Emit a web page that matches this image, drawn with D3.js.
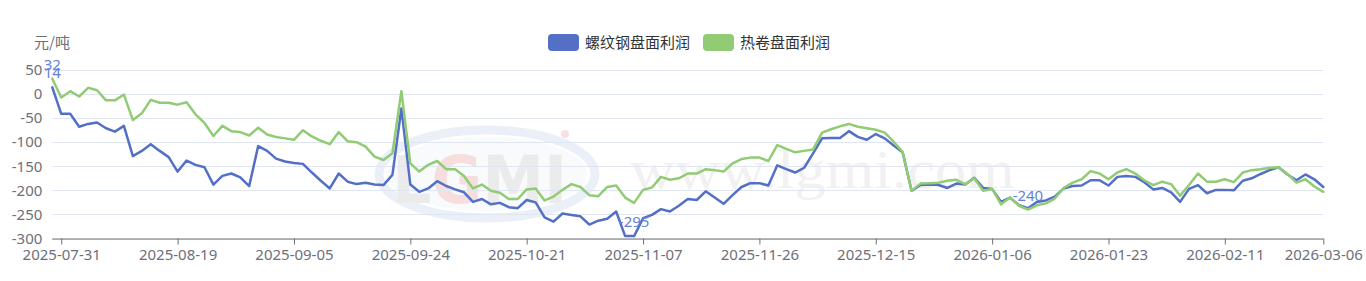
<!DOCTYPE html>
<html lang="zh">
<head>
<meta charset="utf-8" />
<title>螺纹钢 / 热卷 盘面利润</title>
<style>
  body { margin: 0; background: #fff; }
  svg { display: block; font-family: "Noto Sans", "Noto Sans CJK SC", sans-serif; }
  .grid line { stroke: #e0e6f1; stroke-width: 1; }
  .axis text { fill: #6e7079; font-size: 15px; }
  .line { fill: none; stroke-width: 2.5; stroke-linejoin: round; stroke-linecap: round; }
</style>
</head>
<body>
<svg id="chart" width="1366" height="281"></svg>
<script src="https://d3js.org/d3.v7.min.js"></script>
<script>
// trading days on the category axis
const dates = [
  "2025-07-30","2025-07-31","2025-08-01","2025-08-04","2025-08-05","2025-08-06","2025-08-07","2025-08-08",
  "2025-08-11","2025-08-12","2025-08-13","2025-08-14","2025-08-15","2025-08-18","2025-08-19","2025-08-20",
  "2025-08-21","2025-08-22","2025-08-25","2025-08-26","2025-08-27","2025-08-28","2025-08-29","2025-09-01",
  "2025-09-02","2025-09-03","2025-09-04","2025-09-05","2025-09-08","2025-09-09","2025-09-10","2025-09-11",
  "2025-09-12","2025-09-15","2025-09-16","2025-09-17","2025-09-18","2025-09-19","2025-09-22","2025-09-23",
  "2025-09-24","2025-09-25","2025-09-26","2025-09-29","2025-09-30","2025-10-09","2025-10-10","2025-10-13",
  "2025-10-14","2025-10-15","2025-10-16","2025-10-17","2025-10-20","2025-10-21","2025-10-22","2025-10-23",
  "2025-10-24","2025-10-27","2025-10-28","2025-10-29","2025-10-30","2025-10-31","2025-11-03","2025-11-04",
  "2025-11-05","2025-11-06","2025-11-07","2025-11-10","2025-11-11","2025-11-12","2025-11-13","2025-11-14",
  "2025-11-17","2025-11-18","2025-11-19","2025-11-20","2025-11-21","2025-11-24","2025-11-25","2025-11-26",
  "2025-11-27","2025-11-28","2025-12-01","2025-12-02","2025-12-03","2025-12-04","2025-12-05","2025-12-08",
  "2025-12-09","2025-12-10","2025-12-11","2025-12-12","2025-12-15","2025-12-16","2025-12-17","2025-12-18",
  "2025-12-19","2025-12-22","2025-12-23","2025-12-24","2025-12-25","2025-12-26","2025-12-29","2025-12-30",
  "2026-01-05","2026-01-06","2026-01-07","2026-01-08","2026-01-09","2026-01-12","2026-01-13","2026-01-14",
  "2026-01-15","2026-01-16","2026-01-19","2026-01-20","2026-01-21","2026-01-22","2026-01-23","2026-01-26",
  "2026-01-27","2026-01-28","2026-01-29","2026-01-30","2026-02-02","2026-02-03","2026-02-04","2026-02-05",
  "2026-02-06","2026-02-09","2026-02-10","2026-02-11","2026-02-12","2026-02-13","2026-02-24","2026-02-25",
  "2026-02-26","2026-02-27","2026-03-02","2026-03-03","2026-03-04","2026-03-05","2026-03-06"
];

const tickDates = ["2025-07-31","2025-08-19","2025-09-05","2025-09-24","2025-10-21","2025-11-07",
  "2025-11-26","2025-12-15","2026-01-06","2026-01-23","2026-02-11","2026-03-06"];

const yTicks = [50, 0, -50, -100, -150, -200, -250, -300];

const seriesNames = ["螺纹钢盘面利润", "热卷盘面利润"];

// 螺纹钢盘面利润 (元/吨)
const rebar = [
  14,-41,-41,-68,-62,-59,-71,-78,-66,-129,-118,-104,-118,-131,-161,-138,-147,-152,-188,-170,
  -165,-173,-191,-108,-118,-134,-140,-143,-145,-163,-180,-196,-165,-182,-187,-184,-188,-189,-168,-30,
  -188,-203,-196,-181,-191,-198,-204,-224,-218,-229,-226,-235,-237,-220,-225,-256,-265,-248,-251,-254,
  -271,-263,-259,-244,-295,-295,-258,-251,-239,-244,-232,-218,-220,-202,-215,-228,-210,-193,-185,-185,
  -190,-148,-156,-163,-153,-123,-92,-91,-91,-77,-89,-95,-83,-92,-107,-121,-201,-189,-188,-189,
  -195,-186,-188,-174,-195,-197,-224,-215,-231,-237,-224,-221,-213,-196,-191,-190,-179,-179,-190,-172,
  -170,-172,-183,-198,-195,-204,-224,-197,-189,-206,-199,-199,-200,-180,-175,-166,-158,-152,-167,-179,
  -167,-177,-193
];

// 热卷盘面利润 (元/吨)
const hotCoil = [
  32,-7,6,-5,13,8,-13,-13,-1,-54,-40,-12,-18,-18,-22,-17,-42,-60,-87,-66,
  -77,-79,-86,-70,-84,-89,-92,-95,-75,-88,-97,-104,-79,-98,-100,-109,-130,-137,-123,6,
  -144,-161,-147,-139,-156,-156,-170,-196,-188,-201,-205,-218,-218,-198,-196,-221,-213,-199,-187,-193,
  -210,-212,-193,-190,-215,-226,-199,-194,-172,-178,-175,-165,-165,-156,-158,-161,-144,-135,-132,-132,
  -139,-106,-114,-121,-118,-115,-80,-73,-67,-62,-68,-71,-74,-80,-99,-120,-201,-186,-185,-184,
  -180,-178,-187,-175,-201,-197,-229,-215,-232,-240,-231,-227,-217,-195,-184,-177,-160,-165,-177,-163,
  -156,-165,-179,-189,-182,-187,-211,-189,-165,-182,-182,-177,-183,-163,-158,-156,-153,-152,-166,-184,
  -177,-192,-203
];

const colors = ["#5470c6", "#91cc75"];
const labelColor = "#6382d6";

const svg = d3.select("#chart");
const plot = { left: 52.3, right: 1323.3, top: 70, bottom: 238.5 };

const x = d3.scalePoint().domain(dates).range([plot.left, plot.right]);
const y = d3.scaleLinear().domain([-300, 50]).range([plot.bottom, plot.top]);

// ---- watermark (faint logo + site) ----
const wm = svg.append("g").attr("opacity", 0.55);
wm.append("ellipse")
  .attr("cx", 487).attr("cy", 174).attr("rx", 108).attr("ry", 44)
  .attr("fill", "none").attr("stroke", "#dbe4f3").attr("stroke-width", 9);
wm.append("ellipse")
  .attr("cx", 487).attr("cy", 174).attr("rx", 100).attr("ry", 37)
  .attr("fill", "#f3f6fb");
const logo = wm.append("text")
  .attr("x", 392).attr("y", 203)
  .attr("font-family", "DejaVu Sans, sans-serif")
  .attr("font-weight", "bold").attr("font-size", 66)
  .attr("textLength", 175).attr("lengthAdjust", "spacingAndGlyphs");
logo.append("tspan").attr("fill", "#dcdcdc").text("L");
logo.append("tspan").attr("fill", "#f2c4c4").text("G");
logo.append("tspan").attr("fill", "#dcdcdc").text("MI");
wm.append("circle").attr("cx", 565).attr("cy", 134).attr("r", 4).attr("fill", "#f6caca");
wm.append("text")
  .attr("x", 630).attr("y", 188)
  .attr("font-family", "Liberation Serif, serif")
  .attr("font-size", 54).attr("fill", "#e6e6e6")
  .attr("textLength", 385).attr("lengthAdjust", "spacingAndGlyphs")
  .text("www.lgmi.com");

// ---- grid + y labels ----
const grid = svg.append("g").attr("class", "grid");
grid.selectAll("line").data(yTicks).join("line")
  .attr("x1", plot.left).attr("x2", plot.right)
  .attr("y1", d => Math.round(y(d)) + 0.5).attr("y2", d => Math.round(y(d)) + 0.5);

const yAxis = svg.append("g").attr("class", "axis");
yAxis.selectAll("text").data(yTicks).join("text")
  .attr("x", plot.left - 10).attr("y", d => y(d))
  .attr("dy", "0.35em").attr("text-anchor", "end")
  .text(d => d);

svg.append("text")
  .attr("x", 52).attr("y", 43).attr("dy", "0.35em")
  .attr("text-anchor", "middle")
  .attr("fill", "#6e7079").attr("font-size", 15)
  .attr("font-family", "Noto Sans CJK SC, sans-serif")
  .text("元/吨");

// ---- x axis ----
const xAxis = svg.append("g")
  .attr("class", "axis")
  .attr("transform", `translate(0,${plot.bottom})`)
  .call(d3.axisBottom(x).tickValues(tickDates).tickSize(6).tickPadding(5).tickSizeOuter(0));
xAxis.select(".domain").attr("stroke", "#6e7079").attr("d", `M${plot.left},0.5H${plot.right}`);
xAxis.selectAll(".tick line").attr("stroke", "#6e7079");
xAxis.selectAll(".tick text").attr("font-size", 15).attr("font-family", "Noto Sans, sans-serif");

// ---- lines ----
const lineGen = d3.line().x((d, i) => x(dates[i])).y(d => y(d));
[rebar, hotCoil].forEach((vals, k) => {
  svg.append("path")
    .datum(vals)
    .attr("class", "line")
    .attr("stroke", colors[k])
    .attr("d", lineGen);
});

// ---- max / min labels ----
function lastIndex(arr, v) { return arr.lastIndexOf(v); }
const marks = [];
[rebar, hotCoil].forEach(vals => {
  marks.push(d3.maxIndex(vals));
  marks.push(lastIndex(vals, d3.min(vals)));
});
const labelData = [
  { i: marks[0], v: rebar[marks[0]] },
  { i: marks[1], v: rebar[marks[1]] },
  { i: marks[2], v: hotCoil[marks[2]] },
  { i: marks[3], v: hotCoil[marks[3]] }
];
svg.append("g").selectAll("text").data(labelData).join("text")
  .attr("x", d => x(dates[d.i]))
  .attr("y", d => y(d.v) - 9)
  .attr("text-anchor", "middle")
  .attr("fill", labelColor)
  .attr("font-size", 15)
  .text(d => d.v);

// ---- legend ----
const legend = svg.append("g");
const legendX = [548, 703];
seriesNames.forEach((name, k) => {
  legend.append("rect")
    .attr("x", legendX[k]).attr("y", 34).attr("width", 31).attr("height", 17)
    .attr("rx", 4).attr("fill", colors[k]);
  legend.append("text")
    .attr("x", legendX[k] + 37).attr("y", 42.5).attr("dy", "0.35em")
    .attr("fill", "#333").attr("font-size", 15)
    .attr("font-family", "Noto Sans CJK SC, sans-serif")
    .text(name);
});
</script>
</body>
</html>
